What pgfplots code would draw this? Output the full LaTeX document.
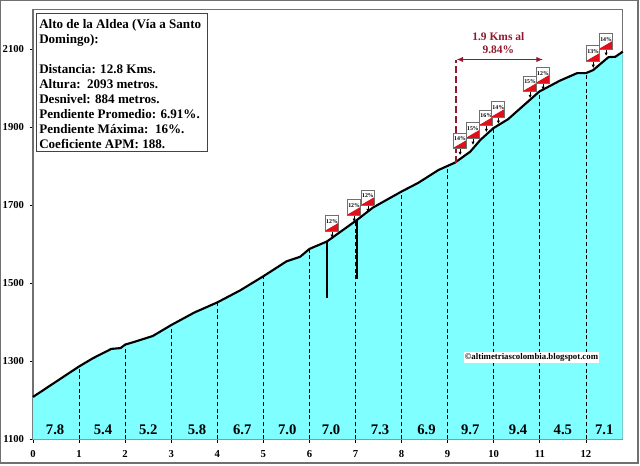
\documentclass[border=0pt]{standalone}
\usepackage{pgfplots}
\usepackage{pgfplotstable}
\usepackage{fontspec}
\setmainfont{Liberation Serif}
\pgfplotsset{compat=1.18}
\usetikzlibrary{arrows.meta}
\definecolor{aqua}{HTML}{7FFFFF}
\definecolor{frameg}{HTML}{707070}
\definecolor{crim}{HTML}{8E1A30}
\definecolor{signred}{HTML}{E0101A}
\pgfplotstableread{
x y
0 1209
0.5 1248
1 1287
1.3 1308
1.7 1332
1.9 1334
2 1343
2.2 1350
2.6 1365
3 1393
3.5 1425
4 1451
4.5 1482
5 1518
5.5 1556
5.8 1568
6 1588
6.38 1607
7.03 1662
7.38 1694
8 1735
8.36 1757
8.8 1790
9.16 1809
9.49 1837
9.71 1867
9.99 1897
10.31 1920
10.99 1991
11.44 2019
11.81 2038
12 2038
12.16 2046
12.49 2079
12.64 2080
12.8 2093
}\profile
\pgfplotstableread{
x y
1 1287
2 1343
3 1393
4 1451
5 1518
6 1588
7 1658
8 1735
9 1799
10 1897
11 1991
12 2038
}\kmlines
\pgfplotstableread{
x y p
6.49 1634 12
6.97 1675 12
7.27 1700 12
9.27 1846 14
9.55 1872 15
9.84 1905 16
10.10 1926 14
10.79 1992 15
11.07 2013 12
12.16 2069 13
12.44 2100 14
}\signs
\pgfplotstableread{
x y label
0.48 1124 7.8
1.52 1124 5.4
2.50 1124 5.2
3.56 1124 5.8
4.54 1124 6.7
5.52 1124 7.0
6.47 1124 7.0
7.53 1124 7.3
8.54 1124 6.9
9.49 1124 9.7
10.53 1124 9.4
11.50 1124 4.5
12.40 1124 7.1
}\grads
\begin{document}
\begin{tikzpicture}
\useasboundingbox (0pt,0pt) rectangle (480pt,349.5pt);
\draw[frameg,line width=1.1pt] (0.5pt,2.25pt) rectangle (478.5pt,349.1pt);
\begin{axis}[
  at={(24.75pt,19.875pt)}, anchor=south west,
  scale only axis, width=442.3pt, height=322.2pt,
  xmin=0, xmax=12.8, ymin=1100, ymax=2200,
  xtick={0,1,...,12}, ytick={1100,1300,1500,1700,1900,2100},
  axis line style={frameg,line width=0.8pt},
  tick style={black,line width=0.5pt},
  tick align=outside, major tick length=2.5pt,
  xtick pos=bottom, ytick pos=left,
  ticklabel style={font=\fontsize{8}{9}\bfseries\selectfont},
  /pgf/number format/assume math mode=true,
  /pgf/number format/1000 sep={},
  xticklabel style={yshift=-2.5pt},
  yticklabel style={xshift=-0.7pt},
  clip=false,
]
\addplot[draw=none,fill=aqua] table[x=x,y=y] {\profile} |- (axis cs:0,1100) -- cycle;
\addplot[ycomb,black,line width=0.5pt,densely dashed,mark=none] table[x=x,y=y] {\kmlines};
\addplot[black,line width=1.6pt] table[x=x,y=y] {\profile};
\addplot[black,line width=1pt] coordinates {(6.38,1607) (6.38,1462)};
\addplot[black,line width=1.6pt] coordinates {(7.03,1662) (7.03,1511)};
\addplot[crim,line width=1.2pt,dash pattern=on 5pt off 2.5pt] coordinates {(9.18,1809) (9.18,2072)};
\addplot[crim,line width=0.8pt,{Latex[length=5pt,width=4pt]}-{Latex[length=5pt,width=4pt]}] coordinates {(9.19,2073) (11.07,2073)};
\addplot[quiver={u=0,v=-18},-{Latex[length=2.5pt,width=2.5pt]},black,line width=0.5pt] table[x=x,y=y] {\signs};
\addplot[only marks,mark=none,
  point meta=explicit symbolic,
  nodes near coords={\raisebox{2.8pt}{\fontsize{4.4}{4.4}\bfseries\selectfont\pgfplotspointmeta\%}},
  every node near coord/.style={anchor=south,inner sep=0pt,outer sep=0pt,yshift=0pt,
    minimum width=9.8pt,minimum height=11.4pt,fill=white,draw=frameg,line width=0.6pt,
    path picture={\fill[signred] (path picture bounding box.south west) -- (path picture bounding box.south east) -- (path picture bounding box.east) -- cycle;}},
] table[x=x,y=y,meta=p] {\signs};
\addplot[only marks,mark=none,
  point meta=explicit symbolic,
  nodes near coords,
  every node near coord/.style={anchor=center,inner sep=0pt,font=\fontsize{11}{12}\bfseries\selectfont},
] table[x=x,y=y,meta=label] {\grads};
\node[crim,font=\fontsize{8.6}{9.5}\bfseries\selectfont,align=center] at (axis cs:10.1,2115) {1.9 Kms al\\9.84\%};
\node[fill=white,inner sep=0.8pt,font=\fontsize{6.6}{7}\bfseries\selectfont] at (axis cs:10.82,1310) {©altimetriascolombia.blogspot.com};
\end{axis}
\node[draw=frameg!60!black,line width=0.9pt,fill=white,anchor=north west,inner sep=0pt,
  minimum width=128pt,minimum height=103.5pt] at (27pt,339.75pt) {};
\node[anchor=north west,inner sep=0pt,align=left,font=\fontsize{9.8}{11.25}\bfseries\selectfont] at (29.25pt,335pt) {Alto de la Aldea (Vía a Santo\\Domingo):\\[11.25pt]Distancia: 12.8 Kms.\\Altura:\ \ 2093 metros.\\Desnivel: 884 metros.\\Pendiente Promedio: 6.91\%.\\Pendiente Máxima:\ \ 16\%.\\Coeficiente APM: 188.};
\end{tikzpicture}
\end{document}
